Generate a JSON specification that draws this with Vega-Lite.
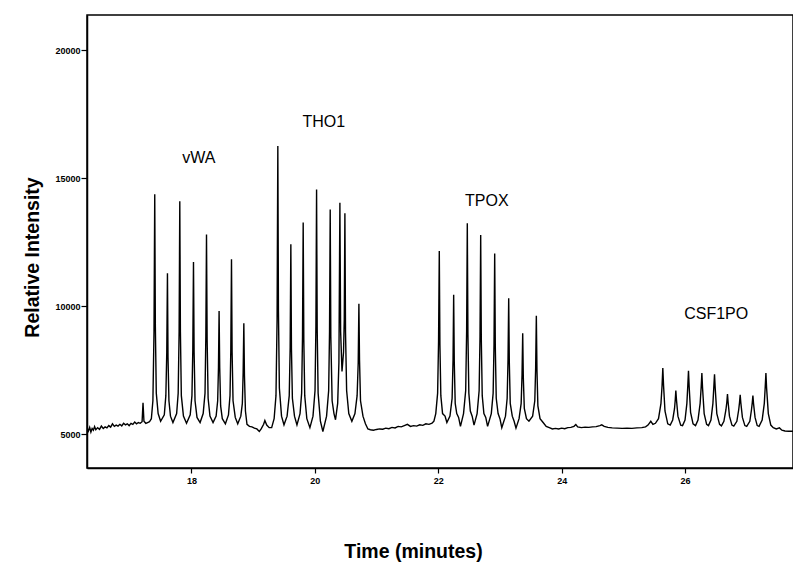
{
  "$schema": "https://vega.github.io/schema/vega-lite/v6.json",
  "width": 706,
  "height": 453,
  "autosize": {"type": "none"},
  "padding": {"left": 87, "top": 15, "right": 0, "bottom": 95},
  "background": "white",
  "config": {"view": {"stroke": "black", "strokeWidth": 1.5}, "font": "Liberation Sans"},
  "datasets": {
    "trace": [
      {"t":16.31,"v":5230},{"t":16.33,"v":5120},{"t":16.35,"v":5260},{"t":16.37,"v":5080},{"t":16.39,"v":5220},{"t":16.41,"v":5150},{"t":16.43,"v":5290},{"t":16.45,"v":5170},{"t":16.48,"v":5250},{"t":16.51,"v":5180},{"t":16.54,"v":5310},{"t":16.57,"v":5220},{"t":16.60,"v":5280},{"t":16.63,"v":5240},{"t":16.66,"v":5330},{"t":16.69,"v":5270},{"t":16.72,"v":5400},{"t":16.75,"v":5300},{"t":16.78,"v":5350},{"t":16.81,"v":5310},{"t":16.84,"v":5380},{"t":16.87,"v":5320},{"t":16.90,"v":5420},{"t":16.93,"v":5360},{"t":16.96,"v":5400},{"t":16.99,"v":5330},{"t":17.02,"v":5420},{"t":17.05,"v":5380},{"t":17.08,"v":5470},{"t":17.11,"v":5400},{"t":17.14,"v":5450},{"t":17.17,"v":5420},{"t":17.20,"v":5480},{"t":17.215,"v":6220},{"t":17.23,"v":5500},{"t":17.26,"v":5420},{"t":17.29,"v":5450},{"t":17.32,"v":5480},
      {"t":17.35,"v":5600},{"t":17.375,"v":6300},{"t":17.393,"v":9000},{"t":17.405,"v":14370},{"t":17.415,"v":9200},{"t":17.43,"v":6600},{"t":17.46,"v":5800},{"t":17.50,"v":5500},
      {"t":17.56,"v":5750},{"t":17.585,"v":6500},{"t":17.600,"v":8200},{"t":17.611,"v":11280},{"t":17.620,"v":8000},{"t":17.635,"v":6300},{"t":17.66,"v":5700},{"t":17.70,"v":5450},
      {"t":17.76,"v":5800},{"t":17.785,"v":6600},{"t":17.80,"v":9000},{"t":17.811,"v":14100},{"t":17.821,"v":9000},{"t":17.836,"v":6500},{"t":17.87,"v":5700},{"t":17.92,"v":5420},
      {"t":17.98,"v":5750},{"t":18.008,"v":6500},{"t":18.022,"v":8300},{"t":18.033,"v":11720},{"t":18.043,"v":8200},{"t":18.058,"v":6300},{"t":18.09,"v":5650},{"t":18.14,"v":5450},
      {"t":18.19,"v":5800},{"t":18.22,"v":6600},{"t":18.233,"v":8800},{"t":18.244,"v":12800},{"t":18.254,"v":8700},{"t":18.27,"v":6400},{"t":18.30,"v":5700},{"t":18.35,"v":5450},
      {"t":18.40,"v":5700},{"t":18.425,"v":6300},{"t":18.438,"v":7600},{"t":18.448,"v":9810},{"t":18.458,"v":7600},{"t":18.473,"v":6100},{"t":18.50,"v":5600},{"t":18.55,"v":5400},
      {"t":18.60,"v":5750},{"t":18.625,"v":6500},{"t":18.638,"v":8300},{"t":18.649,"v":11830},{"t":18.659,"v":8200},{"t":18.674,"v":6300},{"t":18.71,"v":5650},{"t":18.75,"v":5400},
      {"t":18.80,"v":5700},{"t":18.825,"v":6200},{"t":18.838,"v":7400},{"t":18.849,"v":9330},{"t":18.859,"v":7300},{"t":18.875,"v":5900},{"t":18.90,"v":5380},{"t":18.94,"v":5300},{"t":18.98,"v":5280},{"t":19.02,"v":5230},{"t":19.06,"v":5200},{"t":19.10,"v":5100},{"t":19.13,"v":5200},{"t":19.17,"v":5380},{"t":19.19,"v":5530},{"t":19.22,"v":5350},{"t":19.26,"v":5250},{"t":19.30,"v":5250},
      {"t":19.34,"v":5600},{"t":19.37,"v":6500},{"t":19.388,"v":9500},{"t":19.400,"v":16260},{"t":19.410,"v":9800},{"t":19.425,"v":6800},{"t":19.46,"v":5700},{"t":19.50,"v":5360},
      {"t":19.55,"v":5700},{"t":19.585,"v":6500},{"t":19.60,"v":8400},{"t":19.611,"v":12420},{"t":19.621,"v":8300},{"t":19.636,"v":6400},{"t":19.67,"v":5700},{"t":19.71,"v":5360},
      {"t":19.76,"v":5800},{"t":19.786,"v":6600},{"t":19.80,"v":8800},{"t":19.811,"v":13270},{"t":19.821,"v":8700},{"t":19.836,"v":6500},{"t":19.87,"v":5600},{"t":19.92,"v":5250},
      {"t":19.97,"v":5700},{"t":20.003,"v":6700},{"t":20.017,"v":9200},{"t":20.028,"v":14560},{"t":20.038,"v":9100},{"t":20.053,"v":6600},{"t":20.09,"v":5500},{"t":20.13,"v":5100},
      {"t":20.19,"v":5700},{"t":20.224,"v":6700},{"t":20.238,"v":9000},{"t":20.249,"v":13780},{"t":20.259,"v":8800},{"t":20.28,"v":6300},{"t":20.31,"v":5800},{"t":20.335,"v":5560},
      {"t":20.37,"v":6200},{"t":20.39,"v":7800},{"t":20.406,"v":14040},{"t":20.418,"v":9000},{"t":20.44,"v":7450},{"t":20.465,"v":8200},{"t":20.477,"v":9500},{"t":20.487,"v":13630},{"t":20.497,"v":9000},{"t":20.515,"v":6700},{"t":20.55,"v":5800},{"t":20.60,"v":5500},
      {"t":20.65,"v":5800},{"t":20.685,"v":6500},{"t":20.703,"v":7800},{"t":20.714,"v":10090},{"t":20.724,"v":7900},{"t":20.74,"v":6300},{"t":20.78,"v":5700},{"t":20.82,"v":5400},{"t":20.86,"v":5200},{"t":20.90,"v":5170},{"t":20.95,"v":5150},{"t":21.00,"v":5180},{"t":21.05,"v":5200},{"t":21.10,"v":5190},{"t":21.15,"v":5230},{"t":21.20,"v":5210},{"t":21.25,"v":5260},{"t":21.30,"v":5240},{"t":21.35,"v":5300},{"t":21.40,"v":5280},{"t":21.45,"v":5330},{"t":21.50,"v":5380},{"t":21.55,"v":5300},{"t":21.60,"v":5330},{"t":21.65,"v":5310},{"t":21.70,"v":5360},{"t":21.75,"v":5340},{"t":21.80,"v":5400},{"t":21.85,"v":5380},{"t":21.90,"v":5430},{"t":21.93,"v":5500},
      {"t":21.96,"v":5800},{"t":21.99,"v":6600},{"t":22.005,"v":8600},{"t":22.017,"v":12150},{"t":22.027,"v":8500},{"t":22.042,"v":6500},{"t":22.07,"v":5800},{"t":22.11,"v":5700},{"t":22.14,"v":5450},
      {"t":22.19,"v":5700},{"t":22.225,"v":6400},{"t":22.24,"v":7900},{"t":22.250,"v":10440},{"t":22.260,"v":7800},{"t":22.275,"v":6200},{"t":22.30,"v":5800},{"t":22.33,"v":5650},{"t":22.36,"v":5300},
      {"t":22.41,"v":5800},{"t":22.445,"v":6700},{"t":22.46,"v":9000},{"t":22.471,"v":13240},{"t":22.481,"v":8900},{"t":22.496,"v":6600},{"t":22.52,"v":5900},{"t":22.55,"v":5700},{"t":22.58,"v":5350},
      {"t":22.63,"v":5800},{"t":22.663,"v":6700},{"t":22.677,"v":8800},{"t":22.688,"v":12780},{"t":22.698,"v":8700},{"t":22.713,"v":6500},{"t":22.74,"v":5800},{"t":22.77,"v":5650},{"t":22.80,"v":5300},
      {"t":22.86,"v":5800},{"t":22.89,"v":6600},{"t":22.904,"v":8500},{"t":22.915,"v":12060},{"t":22.925,"v":8400},{"t":22.94,"v":6400},{"t":22.97,"v":5800},{"t":23.00,"v":5600},{"t":23.03,"v":5250},
      {"t":23.09,"v":5700},{"t":23.117,"v":6400},{"t":23.131,"v":7900},{"t":23.142,"v":10310},{"t":23.152,"v":7800},{"t":23.167,"v":6200},{"t":23.20,"v":5700},{"t":23.23,"v":5500},{"t":23.26,"v":5230},
      {"t":23.31,"v":5600},{"t":23.344,"v":6200},{"t":23.358,"v":7300},{"t":23.369,"v":8940},{"t":23.379,"v":7200},{"t":23.395,"v":6000},{"t":23.43,"v":5600},{"t":23.47,"v":5500},
      {"t":23.53,"v":5700},{"t":23.565,"v":6300},{"t":23.579,"v":7600},{"t":23.590,"v":9620},{"t":23.600,"v":7500},{"t":23.615,"v":6100},{"t":23.65,"v":5600},{"t":23.70,"v":5450},{"t":23.75,"v":5300},{"t":23.80,"v":5250},{"t":23.85,"v":5200},{"t":23.90,"v":5220},{"t":23.95,"v":5200},{"t":24.00,"v":5230},{"t":24.05,"v":5210},{"t":24.10,"v":5250},{"t":24.15,"v":5260},{"t":24.20,"v":5300},{"t":24.23,"v":5370},{"t":24.26,"v":5280},{"t":24.32,"v":5250},{"t":24.38,"v":5270},{"t":24.44,"v":5260},{"t":24.50,"v":5280},{"t":24.56,"v":5290},{"t":24.62,"v":5330},{"t":24.65,"v":5360},{"t":24.69,"v":5300},{"t":24.75,"v":5260},{"t":24.82,"v":5240},{"t":24.90,"v":5230},{"t":24.98,"v":5220},{"t":25.06,"v":5230},{"t":25.14,"v":5220},{"t":25.22,"v":5240},{"t":25.30,"v":5250},{"t":25.36,"v":5280},{"t":25.40,"v":5350},{"t":25.445,"v":5500},{"t":25.48,"v":5380},{"t":25.52,"v":5420},
      {"t":25.57,"v":5600},{"t":25.61,"v":6200},{"t":25.628,"v":6900},{"t":25.64,"v":7580},{"t":25.652,"v":6900},{"t":25.675,"v":5900},{"t":25.72,"v":5400},{"t":25.76,"v":5350},
      {"t":25.80,"v":5550},{"t":25.83,"v":6000},{"t":25.842,"v":6350},{"t":25.851,"v":6700},{"t":25.861,"v":6350},{"t":25.885,"v":5700},{"t":25.93,"v":5350},{"t":25.96,"v":5330},
      {"t":26.00,"v":5550},{"t":26.03,"v":6200},{"t":26.045,"v":6900},{"t":26.056,"v":7470},{"t":26.067,"v":6850},{"t":26.09,"v":5850},{"t":26.13,"v":5400},{"t":26.17,"v":5330},
      {"t":26.21,"v":5550},{"t":26.245,"v":6200},{"t":26.262,"v":6850},{"t":26.273,"v":7380},{"t":26.284,"v":6800},{"t":26.31,"v":5800},{"t":26.35,"v":5380},{"t":26.38,"v":5330},
      {"t":26.42,"v":5550},{"t":26.452,"v":6200},{"t":26.467,"v":6850},{"t":26.478,"v":7340},{"t":26.489,"v":6800},{"t":26.515,"v":5800},{"t":26.56,"v":5380},{"t":26.59,"v":5320},
      {"t":26.63,"v":5500},{"t":26.663,"v":5950},{"t":26.678,"v":6250},{"t":26.688,"v":6560},{"t":26.698,"v":6250},{"t":26.72,"v":5700},{"t":26.76,"v":5350},{"t":26.79,"v":5310},
      {"t":26.84,"v":5500},{"t":26.87,"v":5950},{"t":26.884,"v":6250},{"t":26.894,"v":6530},{"t":26.904,"v":6230},{"t":26.93,"v":5650},{"t":26.97,"v":5330},{"t":27.00,"v":5300},
      {"t":27.05,"v":5500},{"t":27.077,"v":5950},{"t":27.09,"v":6230},{"t":27.10,"v":6500},{"t":27.11,"v":6200},{"t":27.135,"v":5650},{"t":27.17,"v":5330},{"t":27.20,"v":5300},
      {"t":27.25,"v":5550},{"t":27.285,"v":6200},{"t":27.30,"v":6850},{"t":27.311,"v":7380},{"t":27.322,"v":6800},{"t":27.35,"v":5800},{"t":27.39,"v":5350},{"t":27.43,"v":5250},{"t":27.48,"v":5200},{"t":27.53,"v":5240},{"t":27.57,"v":5150},{"t":27.62,"v":5120},{"t":27.68,"v":5110},{"t":27.75,"v":5110}
    ],
    "labels": [
      {"t": 18.119, "v": 15589, "label": "vWA"},
      {"t": 20.146, "v": 16994, "label": "THO1"},
      {"t": 22.787, "v": 13911, "label": "TPOX"},
      {"t": 26.505, "v": 9488, "label": "CSF1PO"}
    ]
  },
  "encoding": {
    "x": {
      "field": "t", "type": "quantitative",
      "scale": {"domain": [16.307, 27.75], "nice": false, "zero": false},
      "axis": {
        "values": [18, 20, 22, 24, 26], "grid": false,
        "domainColor": "black", "domainWidth": 1.5,
        "tickColor": "black", "tickSize": 5, "tickWidth": 1.2,
        "labelFont": "Liberation Sans", "labelFontSize": 9, "labelFontWeight": "bold", "labelColor": "black", "labelPadding": 3,
        "title": "Time (minutes)", "titleFont": "Liberation Sans", "titleFontSize": 19.5, "titleFontWeight": "bold", "titleColor": "black",
        "titleX": 326, "titleY": 89, "titleAlign": "center", "titleBaseline": "alphabetic"
      }
    },
    "y": {
      "field": "v", "type": "quantitative",
      "scale": {"domain": [3673, 21378], "nice": false, "zero": false},
      "axis": {
        "values": [5000, 10000, 15000, 20000], "format": "d", "grid": false,
        "domainColor": "black", "domainWidth": 1.5,
        "tickColor": "black", "tickSize": 6, "tickWidth": 1.2,
        "labelFont": "Liberation Sans", "labelFontSize": 9, "labelFontWeight": "bold", "labelColor": "black", "labelPadding": 1,
        "title": "Relative Intensity", "titleFont": "Liberation Sans", "titleFontSize": 19.5, "titleFontWeight": "bold", "titleColor": "black",
        "titleX": -49, "titleY": 242, "titleAngle": -90, "titleAlign": "center", "titleBaseline": "alphabetic"
      }
    }
  },
  "layer": [
    {
      "data": {"name": "trace"},
      "mark": {"type": "line", "color": "black", "strokeWidth": 1.4, "clip": true}
    },
    {
      "data": {"name": "labels"},
      "mark": {"type": "text", "font": "Liberation Sans", "fontSize": 16, "color": "black", "align": "center", "baseline": "alphabetic"},
      "encoding": {"text": {"field": "label"}}
    }
  ]
}
